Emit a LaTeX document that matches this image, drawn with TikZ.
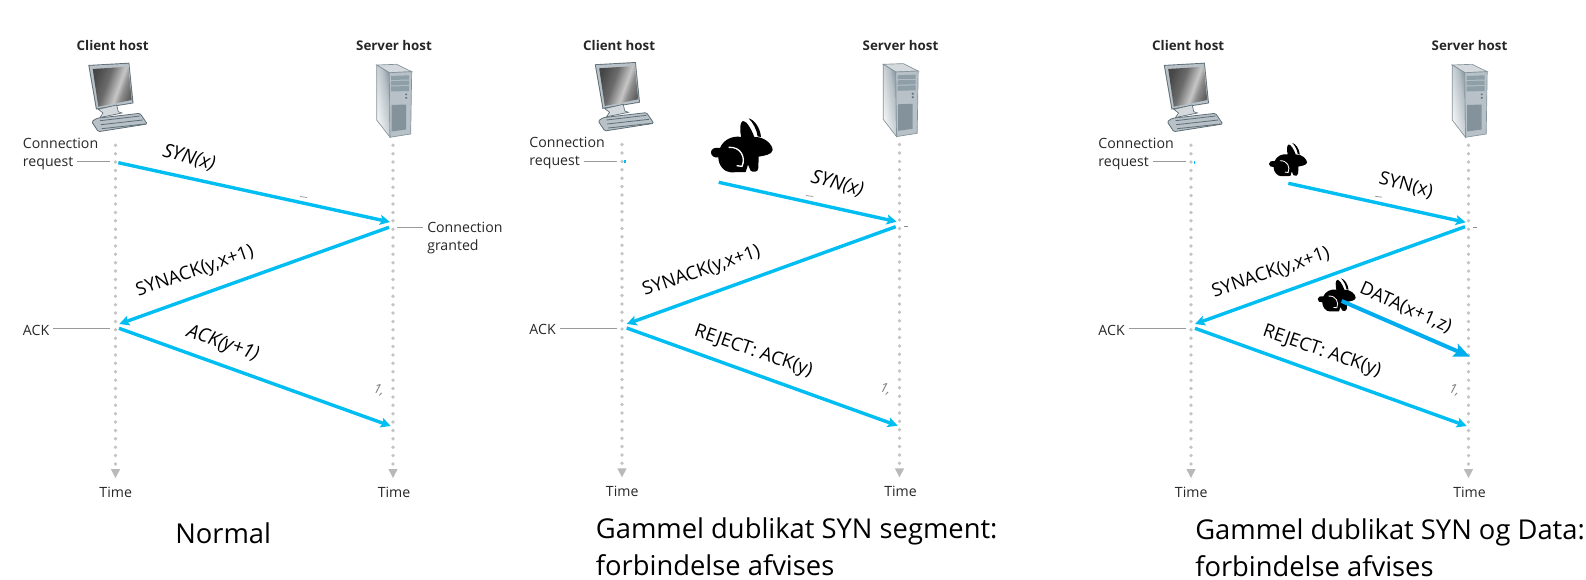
\documentclass[tikz,border=0pt]{standalone}
\usepackage{fontspec}
\setmainfont{Open Sans}
\usetikzlibrary{arrows.meta}
\definecolor{flow}{HTML}{00BDF2}
\definecolor{flowdk}{HTML}{00AEEF}
\definecolor{dotc}{HTML}{C4C4C4}
\definecolor{tipc}{HTML}{B9B9B9}
\definecolor{leader}{HTML}{9A9A9A}
\definecolor{ink}{HTML}{262626}
\definecolor{steelA}{HTML}{B7C1C7}
\definecolor{steelB}{HTML}{8E9FA8}
\definecolor{steelC}{HTML}{84939B}
\definecolor{steelD}{HTML}{5F6E76}
\definecolor{steelE}{HTML}{D3D9DC}
\pgfdeclarehorizontalshading{screenshade}{100bp}{color(0bp)=(black!72);color(25bp)=(black!72);color(42bp)=(black!58);color(58bp)=(black!22);color(65bp)=(black!45);color(75bp)=(black!62);color(100bp)=(black!62)}
\pgfdeclarehorizontalshading{sideshade}{100bp}{color(0bp)=(white);color(25bp)=(white!96!steelC);color(60bp)=(steelA);color(75bp)=(steelC);color(100bp)=(steelC)}
\tikzset{
  x=0.75pt,y=-0.75pt,
  flowline/.style={draw=flow,line width=2.55pt,-{Stealth[length=7.5pt,width=7.5pt,inset=1.6pt]}},
  dataline/.style={draw=flowdk,line width=3pt,-{Stealth[length=12pt,width=10pt,inset=2pt]}},
  timeline/.style={draw=dotc,line width=2.8pt,line cap=round,dash pattern=on 0pt off 6.29pt},
  timetip/.style={fill=tipc},
  leaderline/.style={draw=leader,line width=0.75pt},
  hosttxt/.style={font=\fontsize{10pt}{12pt}\selectfont\bfseries,text=ink,inner sep=0pt},
  sidetxt/.style={font=\fontsize{10.6pt}{13.5pt}\selectfont,text=ink,inner sep=0pt,align=left},
  msg/.style={font=\fontsize{13.8pt}{16pt}\selectfont,text=black,inner sep=0pt},
  msgi/.style={msg,font=\fontsize{14.5pt}{16pt}\selectfont\itshape},
  caption/.style={font=\fontsize{20.5pt}{27.6pt}\selectfont,text=black,inner sep=0pt,align=left},
  stray/.style={font=\fontsize{10pt}{11pt}\selectfont\itshape,text=black!50,inner sep=0pt},
  straydash/.style={draw=black!45,line width=0.5pt},
  computer/.pic={
    \fill[steelD] (88.3,65) -- (129.3,62.7) -- (133.5,103.3) -- (96,109.5) -- cycle;
    \fill[steelA] (89.4,65.8) -- (128.6,63.7) -- (132.4,102.6) -- (96.8,108.4) -- cycle;
    \shade[shading=screenshade,shading angle=-20] (92.7,69) -- (128.3,66.7) -- (131.7,100) -- (98.3,106.7) -- cycle;
    \fill[steelE,draw=steelD,line width=0.5pt] (98.3,109.3) -- (116.7,105) -- (118.3,111.7) -- (122,113) -- (100,117.5) -- (103,113) -- cycle;
    \fill[steelA,draw=steelD,line width=0.6pt,rounded corners=1pt] (96.7,118.3) -- (140,113.3) -- (147.3,124) -- (98.3,131.7) -- (91.7,121.7) -- cycle;
    \draw[steelD,line width=0.6pt] (100,120.7) -- (140,116) (100.7,124.7) -- (142.7,120) (101.7,128.7) -- (145,124);
  },
  serverbox/.pic={
    \fill[steelE,draw=steelC,line width=0.5pt] (376.7,65) -- (396.7,64.3) -- (411.7,71.7) -- (389.3,72.7) -- cycle;
    \shade[shading=sideshade,shading angle=10,draw=steelC,line width=0.5pt] (376.7,65) -- (389.3,72.7) -- (390,137.3) -- (376.7,120) -- cycle;
    \fill[steelA,draw=steelC,line width=0.5pt] (389.3,72.7) -- (411.7,71.7) -- (410.7,134) -- (390,137.3) -- cycle;
    \fill[steelB] (391,76) -- (409,75.3) -- (409,79.5) -- (391,80) -- cycle;
    \fill[steelB] (391,81) -- (409,80.5) -- (409,85) -- (391,85.5) -- cycle;
    \fill[steelB] (391,86.5) -- (409,86) -- (409,91) -- (391,91.5) -- cycle;
    \fill[steelD] (405.3,93.5) rectangle (407,95.2) (405.3,97) rectangle (407,98.7);
    \fill[steelC] (391.7,105) -- (406,104.5) -- (406,129.5) -- (391.7,131.5) -- cycle;
  },
}
\newcommand{\hostpanel}[3]{%
  \pic at (#2,#3) {computer};
  \pic at (#2,#3) {serverbox};
  \node[hosttxt] (#1ch) at ({#2+112.7},{#3+45.7}) {Client host};
  \node[hosttxt] (#1sh) at ({#2+394},{#3+45.7}) {Server host};
  \node[sidetxt,anchor=north west] (#1req) at ({#2+22.7},{#3+137.5}) {Connection\\request};
  \node[sidetxt,anchor=west] (#1ackl) at ({#2+22.7},{#3+330}) {ACK};
  \coordinate (#1ct) at ({#2+115.5},{#3+145.3});
  \coordinate (#1cb) at ({#2+115.5},{#3+464});
  \coordinate (#1st) at ({#2+393},{#3+145.3});
  \coordinate (#1sb) at ({#2+393},{#3+464});
  \draw[timeline] (#1ct) -- (#1cb);
  \draw[timeline] (#1st) -- (#1sb);
  \fill[timetip] ({#2+110.8},{#3+469}) -- ({#2+120.2},{#3+469}) -- ({#2+115.5},{#3+478}) -- cycle;
  \fill[timetip] ({#2+388.3},{#3+469}) -- ({#2+397.7},{#3+469}) -- ({#2+393},{#3+478}) -- cycle;
  \node[sidetxt] (#1tc) at ({#2+115.7},{#3+492.5}) {Time};
  \node[sidetxt] (#1ts) at ({#2+394},{#3+492.5}) {Time};
  \coordinate (#1la) at ({#2+77},{#3+161.7});
  \coordinate (#1lb) at ({#2+110},{#3+161.7});
  \draw[leaderline] (#1la) -- (#1lb);
  \coordinate (#1lc) at ({#2+53},{#3+328.7});
  \coordinate (#1ld) at ({#2+110},{#3+328.7});
  \draw[leaderline] (#1lc) -- (#1ld);
  \node[stray,rotate=-15] (#1one) at ({#2+379},{#3+390}) {1,};
}
\newcommand{\rabbit}[3]{%
  \begin{scope}[shift={(#1,#2)},scale=#3]
    \fill[black] (0,103) .. controls (0,93) and (10,87) .. (27,90) .. controls (37,65) and (65,52) .. (91,57) .. controls (85,35) and (87,13) .. (95,9) .. controls (105,7) and (120,30) .. (130,57) .. controls (160,55) and (185,80) .. (185,96) .. controls (183,110) and (160,113) .. (143,116) -- (142,150) .. controls (142,163) and (125,164) .. (119,158) -- (111,140) -- (104,162) -- (60,163) .. controls (40,163) and (22,142) .. (22,118) .. controls (10,121) and (0,113) .. (0,103) -- cycle;
    \fill[black] (113,1) .. controls (130,5) and (148,30) .. (150,57) -- (140,55) .. controls (137,35) and (127,15) .. (113,1) -- cycle;
    \draw[white,line width=#3*3pt] (53,88) .. controls (90,85) and (105,120) .. (93,145) -- (77,143);
  \end{scope}
}
\begin{document}
\begin{tikzpicture}
\useasboundingbox (0,0) rectangle (1586,579);
\hostpanel{a}{0}{0}
\hostpanel{b}{506.5}{-0.7}
\hostpanel{c}{1075.5}{0}
% panel A extras
\node[sidetxt,anchor=north west] (agrant) at (427,221.5) {Connection\\granted};
\coordinate (ag1) at (397,227);
\coordinate (ag2) at (423,227);
\draw[leaderline] (ag1) -- (ag2);
% panel A arrows
\coordinate (a1) at (118.3,162.7); \coordinate (a2) at (390,222);
\coordinate (a3) at (389,227.3);   \coordinate (a4) at (119.3,324);
\coordinate (a5) at (119,328.3);   \coordinate (a6) at (390.7,426);
\draw[flowline] (a1) -- (a2);
\draw[flowline] (a3) -- (a4);
\draw[flowline] (a5) -- (a6);
\node[msgi,rotate=-15] (asyn) at (189,158) {SYN(x)};
\node[msg,rotate=19] (asa) at (195,272) {SYNACK(y,x+1)};
\node[msgi,rotate=-19] (aack) at (222.7,344) {ACK(y+1)};
\coordinate (ad1) at (300,196.5); \coordinate (ad2) at (307,197.5);
\draw[straydash] (ad1) -- (ad2);
\node[caption,anchor=base west] (acap) at (175,543) {Normal};
% panel B
\rabbit{711}{118}{0.3333}
\coordinate (b1) at (718.7,182.3); \coordinate (b2) at (896.7,221.7);
\coordinate (b3) at (895.7,226.7); \coordinate (b4) at (626.7,324);
\coordinate (b5) at (626.7,328);   \coordinate (b6) at (897.7,425.7);
\draw[flowline] (b1) -- (b2);
\draw[flowline] (b3) -- (b4);
\draw[flowline] (b5) -- (b6);
\node[msgi,rotate=-15] (bsyn) at (837.3,184) {SYN(x)};
\node[msg,rotate=19] (bsa) at (701.7,271.7) {SYNACK(y,x+1)};
\node[msg,rotate=-19] (brej) at (753.3,351.7) {REJECT: ACK(y)};
\coordinate (bd1) at (806,195.5); \coordinate (bd2) at (813,196.5);
\draw[straydash] (bd1) -- (bd2);
\coordinate (bd3) at (904,226); \coordinate (bd4) at (908,226);
\draw[straydash] (bd3) -- (bd4);
\coordinate (bt1) at (625,160); \coordinate (bt2) at (625,163);
\draw[draw=flow,line width=0.8pt] (bt1) -- (bt2);
\node[caption,anchor=base west] (bcap) at (595.7,538) {Gammel dublikat SYN segment:};
\node[caption,anchor=base west] (bcapb) at (595.7,575) {forbindelse afvises};
% panel C
\rabbit{1269}{142.7}{0.2054}
\rabbit{1317.7}{278}{0.2054}
\coordinate (c1) at (1288.3,183.3); \coordinate (c2) at (1465.7,222.3);
\coordinate (c3) at (1465,226.7);   \coordinate (c4) at (1195,324);
\coordinate (c5) at (1195,328.3);   \coordinate (c6) at (1466.7,426);
\coordinate (c7) at (1341.7,301);   \coordinate (c8) at (1470,356.7);
\draw[flowline] (c1) -- (c2);
\draw[flowline] (c3) -- (c4);
\draw[flowline] (c5) -- (c6);
\draw[dataline] (c7) -- (c8);
\node[msg,rotate=-15] (csyn) at (1406,185.7) {SYN(x)};
\node[msg,rotate=19] (csa) at (1271,273.3) {SYNACK(y,x+1)};
\node[msg,rotate=-24] (cdata) at (1405.7,308.3) {DATA(x+1,z)};
\node[msg,rotate=-19] (crej) at (1321.7,351.7) {REJECT: ACK(y)};
\coordinate (cd1) at (1375,196.2); \coordinate (cd2) at (1382,197.2);
\draw[straydash] (cd1) -- (cd2);
\coordinate (cd3) at (1473,227); \coordinate (cd4) at (1477,227);
\draw[straydash] (cd3) -- (cd4);
\coordinate (ct1) at (1194.5,160.5); \coordinate (ct2) at (1194.5,163.5);
\draw[draw=flow,line width=0.8pt] (ct1) -- (ct2);
\node[caption,anchor=base west] (ccap) at (1195,539) {Gammel dublikat SYN og Data:};
\node[caption,anchor=base west] (ccapb) at (1195,576) {forbindelse afvises};
\end{tikzpicture}
\end{document}
